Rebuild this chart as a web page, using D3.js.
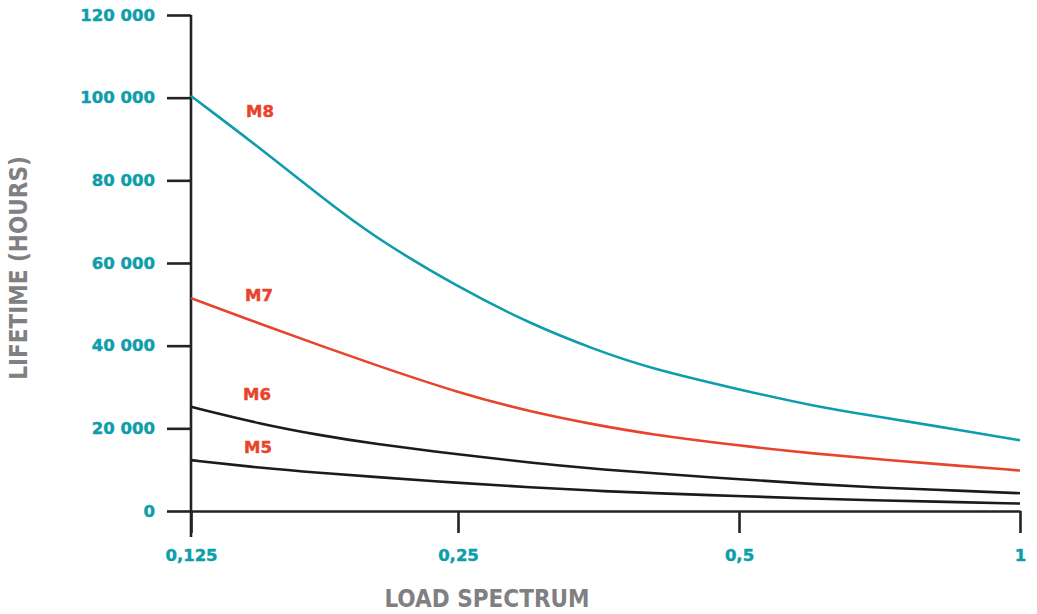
<!DOCTYPE html>
<html>
<head>
<meta charset="utf-8">
<script src="https://cdn.jsdelivr.net/npm/d3@7"></script>
<style>
  body { margin: 0; background: #fff; }
  svg { display: block; }
</style>
</head>
<body>
<div id="chart"></div>
<script>
// Lifetime vs load spectrum, one curve per motor size

const loadSpectrum = [0.125, 0.15, 0.175, 0.2, 0.25, 0.3, 0.35, 0.4, 0.5, 0.6, 0.7, 0.8, 1];

const m8 = [100400, 87600, 76100, 66600, 54100, 45100, 39100, 34600, 29400, 25400, 22900, 20800, 17100];
const m7 = [51500, 45200, 40000, 35600, 28600, 23900, 20900, 18600, 15800, 13900, 12600, 11500, 9800];
const m6 = [25200, 21000, 18300, 16300, 13700, 11600, 10200, 9200, 7700, 6500, 5700, 5200, 4300];
const m5 = [12300, 10400, 9200, 8300, 6800, 5700, 4900, 4350, 3600, 3000, 2600, 2300, 1800];

const xTicks = [0.125, 0.25, 0.5, 1];
const xTickLabels = ["0,125", "0,25", "0,5", "1"];
const yTicks = [0, 20000, 40000, 60000, 80000, 100000, 120000];
const yTickLabels = ["0", "20 000", "40 000", "60 000", "80 000", "100 000", "120 000"];

const series = [
    { name: "M8", values: m8, color: "#0e9dab", lx: 260, ly: 111 },
    { name: "M7", values: m7, color: "#e8432d", lx: 259, ly: 295 },
    { name: "M6", values: m6, color: "#1b1b1d", lx: 257, ly: 394 },
    { name: "M5", values: m5, color: "#1b1b1d", lx: 258, ly: 447 }
];

const width = 1037, height = 614;
const teal = "#0e9dab", red = "#e8432d", axisColor = "#232325";

const svg = d3.select("#chart")
    .append("svg")
    .attr("width", width)
    .attr("height", height)
    .attr("viewBox", [0, 0, width, height]);

// x positions on the original are not evenly logarithmic, so pin each tick
const x = d3.scaleLog()
    .domain(xTicks)
    .range([191, 458, 739, 1020]);

const y = d3.scaleLinear()
    .domain([0, 120000])
    .range([511, 15]);

function labelStyle(sel, color) {
    sel.attr("fill", color)
        .attr("stroke", color)
        .attr("stroke-width", 0.45)
        .style("font-family", "DejaVu Sans, sans-serif")
        .style("font-weight", "bold")
        .style("font-size", "16.5px");
}

// Y axis
const yAxis = svg.append("g")
    .attr("transform", "translate(191,0)")
    .call(d3.axisLeft(y)
        .tickValues(yTicks)
        .tickSize(24)
        .tickPadding(12)
        .tickFormat((d, i) => yTickLabels[i]));

yAxis.select(".domain").remove();
yAxis.selectAll(".tick line")
    .attr("stroke", axisColor)
    .attr("stroke-width", 2.6);
yAxis.selectAll(".tick text").call(labelStyle, teal);

// X axis
const xAxis = svg.append("g")
    .attr("transform", "translate(0,511)")
    .call(d3.axisBottom(x)
        .tickValues(xTicks)
        .tickSize(22)
        .tickSizeOuter(0)
        .tickPadding(16)
        .tickFormat((d, i) => xTickLabels[i]));

xAxis.select(".domain")
    .attr("stroke", axisColor)
    .attr("stroke-width", 2.6);
xAxis.selectAll(".tick line")
    .attr("stroke", axisColor)
    .attr("stroke-width", 2.6);
xAxis.selectAll(".tick text").call(labelStyle, teal);

// vertical axis line, runs past the baseline like the original
svg.append("line")
    .attr("x1", x(0.125)).attr("x2", x(0.125))
    .attr("y1", y(120000)).attr("y2", 537)
    .attr("stroke", axisColor)
    .attr("stroke-width", 2.6);

// Curves
const line = d3.line()
    .x((d, i) => x(loadSpectrum[i]))
    .y(d => y(d))
    .curve(d3.curveBasis);

svg.append("g")
    .selectAll("path")
    .data(series)
    .join("path")
    .attr("d", d => line(d.values))
    .attr("fill", "none")
    .attr("stroke", d => d.color)
    .attr("stroke-width", 2.6);

// Series labels
svg.append("g")
    .selectAll("text")
    .data(series)
    .join("text")
    .text(d => d.name)
    .attr("x", d => d.lx)
    .attr("y", d => d.ly)
    .attr("text-anchor", "middle")
    .attr("dy", "0.35em")
    .call(labelStyle, red);

// Axis titles
svg.append("text")
    .text("LOAD SPECTRUM")
    .attr("x", 487)
    .attr("y", 607)
    .attr("text-anchor", "middle")
    .attr("fill", "#808082")
    .style("font-family", "DejaVu Sans Condensed, DejaVu Sans, sans-serif")
    .style("font-stretch", "condensed")
    .style("font-weight", "bold")
    .style("font-size", "24px");

svg.append("text")
    .text("LIFETIME (HOURS)")
    .attr("transform", "translate(27,268) rotate(-90)")
    .attr("text-anchor", "middle")
    .attr("fill", "#808082")
    .style("font-family", "DejaVu Sans Condensed, DejaVu Sans, sans-serif")
    .style("font-stretch", "condensed")
    .style("font-weight", "bold")
    .style("font-size", "24px");
</script>
</body>
</html>
